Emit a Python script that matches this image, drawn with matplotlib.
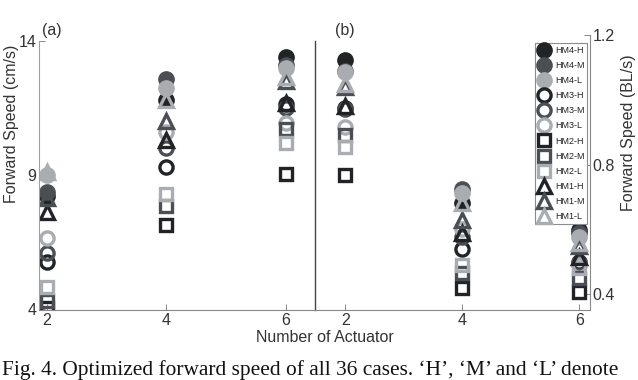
import matplotlib.pyplot as plt

plt.rcParams['font.family'] = ['Liberation Sans', 'DejaVu Sans']

# number of actuators
actuators = [2, 4, 6]

# panel (a): forward speed in cm/s, one list per case (values at 2, 4, 6 actuators)
speed_cm = {
    'HM4-H': [8.2, 11.8, 13.4],
    'HM4-M': [8.35, 12.58, 13.1],
    'HM4-L': [9.0, 12.25, 13.0],
    'HM3-H': [5.75, 9.3, 11.65],
    'HM3-M': [6.1, 10.0, 11.5],
    'HM3-L': [6.65, 10.6, 10.95],
    'HM2-H': [4.05, 7.15, 9.05],
    'HM2-M': [4.3, 7.85, 10.7],
    'HM2-L': [4.8, 8.3, 10.2],
    'HM1-H': [7.6, 10.3, 11.7],
    'HM1-M': [8.15, 11.0, 12.5],
    'HM1-L': [9.1, 11.8, 12.67],
}

# panel (b): forward speed in body lengths per second
speed_bl = {
    'HM4-H': [1.123, 0.68, 0.598],
    'HM4-M': [1.09, 0.726, 0.59],
    'HM4-L': [1.085, 0.711, 0.575],
    'HM3-H': [0.975, 0.54, 0.50],
    'HM3-M': [0.97, 0.577, 0.495],
    'HM3-L': [0.917, 0.60, 0.49],
    'HM2-H': [0.767, 0.42, 0.407],
    'HM2-M': [0.89, 0.465, 0.45],
    'HM2-L': [0.855, 0.49, 0.48],
    'HM1-H': [0.98, 0.588, 0.515],
    'HM1-M': [1.04, 0.63, 0.55],
    'HM1-L': [1.05, 0.68, 0.558],
}

shade = {'H': '#222326', 'M': '#4b4f55', 'L': '#a9adb2'}
shape = {'HM4': 'o', 'HM3': 'o', 'HM2': 's', 'HM1': '^'}
filled = {'HM4': True, 'HM3': False, 'HM2': False, 'HM1': False}
size = {'HM4': 11, 'HM3': 9.5, 'HM2': 9, 'HM1': 10.5}

fig = plt.figure(figsize=(6.38, 3.8), dpi=100)
ax1 = fig.add_axes([39 / 638, 70 / 380, 276 / 638, 269 / 380])
ax2 = fig.add_axes([315 / 638, 70 / 380, 275 / 638, 275 / 380])


def draw(ax, data):
    handles = []
    for name, vals in data.items():
        model, level = name.split('-')
        c = shade[level]
        if filled[model]:
            kw = dict(mfc=c, mec=c, mew=1)
        else:
            kw = dict(mfc='none', mec=c, mew=2.4)
        h, = ax.plot(actuators, vals, ls='none', marker=shape[model],
                     ms=size[model], label=name, **kw)
        handles.append(h)
    return handles


draw(ax1, speed_cm)
handles = draw(ax2, speed_bl)

tick_col = '#333333'
for ax in (ax1, ax2):
    ax.set_xticks(actuators)
    ax.tick_params(direction='in', length=4, width=0.6, colors='#777777',
                   labelcolor=tick_col, labelsize=11.5, pad=2)
    ax.spines['top'].set_visible(False)
    ax.spines['bottom'].set_color('#888888')

ax1.set_xlim(1.87, 6.49)
ax1.set_ylim(3.96, 14)
ax1.set_yticks([4, 9, 14])
ax1.spines['left'].set_color('#a0a0a0')
ax1.spines['right'].set_color('#444444')
ax1.spines['right'].set_linewidth(1.0)

ax2.set_xlim(1.48, 6.18)
ax2.set_ylim(0.351, 1.2)
ax2.set_yticks([0.4, 0.8, 1.2])
ax2.yaxis.tick_right()
ax2.spines['left'].set_visible(False)
ax2.spines['right'].set_color('#888888')
ax2.patch.set_alpha(0)

leg = ax2.legend(handles=handles, loc='upper right',
                 bbox_to_anchor=(587 / 638, 337 / 380), bbox_transform=fig.transFigure,
                 fontsize=6.5, frameon=True, fancybox=False, framealpha=1,
                 edgecolor='#8c8c8c', borderpad=0.3, labelspacing=0.68,
                 handlelength=1.5, handletextpad=0.4, borderaxespad=0)
leg.get_frame().set_linewidth(0.8)
for t in leg.get_texts():
    t.set_color('#222222')

fig.text(12 / 638, 1 - 124 / 380, 'Forward Speed (cm/s)', rotation=90,
         ha='center', va='center', fontsize=11.5, color=tick_col)
fig.text(629 / 638, 1 - 133 / 380, 'Forward Speed (BL/s)', rotation=90,
         ha='center', va='center', fontsize=11.5, color=tick_col)
fig.text(325 / 638, 1 - 338 / 380, 'Number of Actuator', ha='center', va='center',
         fontsize=11.5, color=tick_col)
fig.text(42 / 638, 1 - 31 / 380, '(a)', ha='left', va='center', fontsize=11.5, color=tick_col)
fig.text(335 / 638, 1 - 30 / 380, '(b)', ha='left', va='center', fontsize=11.5, color=tick_col)

# caption of the source figure
fig.text(2 / 638, 5 / 380,
         'Fig. 4. Optimized forward speed of all 36 cases. \u2018H\u2019, \u2018M\u2019 and \u2018L\u2019 denote',
         ha='left', va='baseline', fontsize=15.4, family='Liberation Serif', color='#111111')

fig.savefig('out.png', dpi=100)
